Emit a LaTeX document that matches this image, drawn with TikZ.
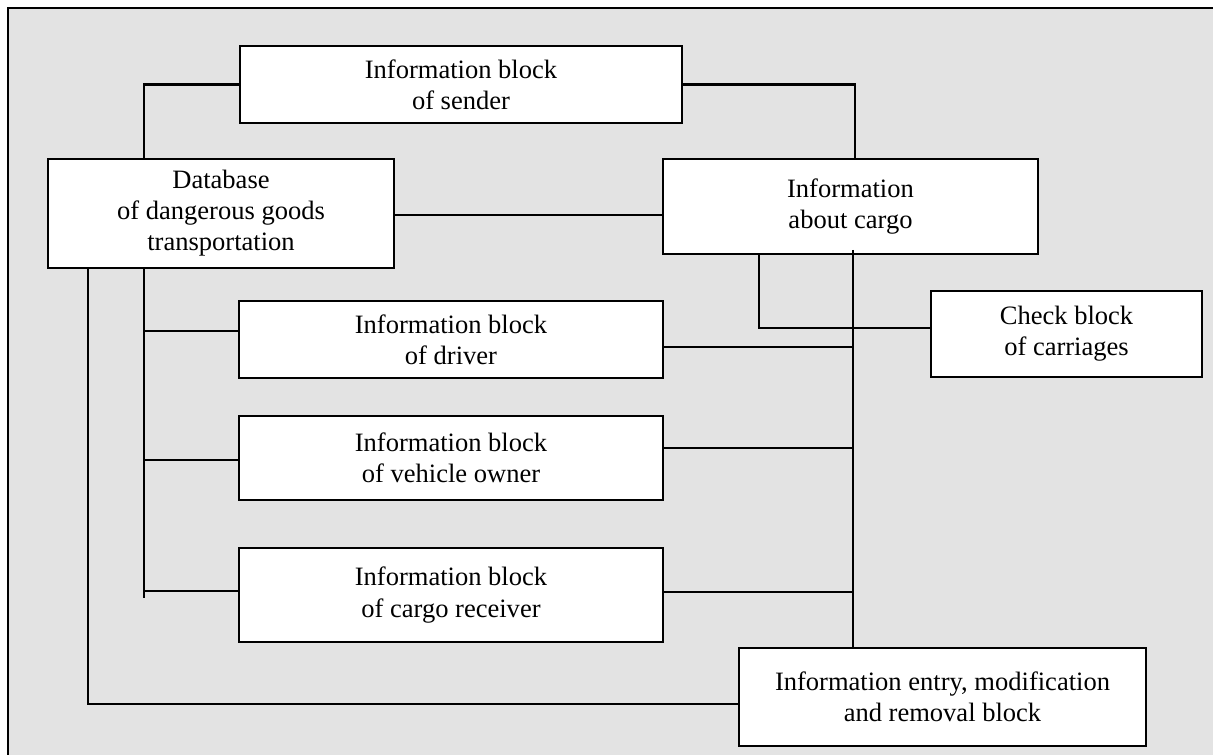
\documentclass[tikz,border=0pt]{standalone}
\usepackage{fontspec}
\setmainfont{Liberation Serif}
\definecolor{panelgray}{HTML}{E3E3E3}
\tikzset{
  blockbox/.style={draw=black, fill=white, line width=1.9pt, align=center, inner sep=0pt,
    font=\fontsize{19.9pt}{23.3pt}\selectfont},
  link/.style={draw=black, line width=1.75pt},
}
\begin{document}
\begin{tikzpicture}[x=0.75pt,y=-0.75pt]
\useasboundingbox (0,0) rectangle (1213,755);
\fill[white] (0,0) rectangle (1213,755);
\fill[panelgray] (8,8) rectangle (1213,755);
\draw[line width=1.9pt] (8,755) -- (8,8) -- (1213,8);

% boxes
\node[blockbox, minimum width=442*0.75pt, minimum height=77*0.75pt] (sender) at (461,84.5) {Information block\\of sender};
\node[blockbox, minimum width=346*0.75pt, minimum height=109*0.75pt] (db) at (221,213.5) {Database\\of dangerous goods\\transportation};
\node[blockbox, minimum width=375*0.75pt, minimum height=95*0.75pt] (cargo) at (850.5,206.5) {Information\\about cargo};
\node[blockbox, minimum width=271*0.75pt, minimum height=86*0.75pt] (check) at (1066.5,334) {Check block\\of carriages};
\node[blockbox, minimum width=424*0.75pt, minimum height=77*0.75pt] (driver) at (451,339.5) {Information block\\of driver};
\node[blockbox, minimum width=424*0.75pt, minimum height=84*0.75pt] (vehicle) at (451,458) {Information block\\of vehicle owner};
\node[blockbox, minimum width=424*0.75pt, minimum height=94*0.75pt] (receiver) at (451,595) {Information block\\of cargo receiver};
\node[blockbox, minimum width=407*0.75pt, minimum height=98*0.75pt] (entry) at (942.5,697) {Information entry, modification\\and removal block};

% helper coordinates for connector routes
\coordinate (xA) at (144,0);
\coordinate (xB) at (88,0);
\coordinate (xC) at (855,0);
\coordinate (xD) at (853,0);
\coordinate (xE) at (759,0);
\coordinate (yDbCargo) at (0,215);
\coordinate (yCheck) at (0,328);
\coordinate (yDrvL) at (0,331);
\coordinate (yDrvR) at (0,347);
\coordinate (yVehL) at (0,460);
\coordinate (yVehR) at (0,448);
\coordinate (yRecL) at (0,591);
\coordinate (yRecR) at (0,592);
\coordinate (yEntry) at (0,704);
\coordinate (busTop) at (853,250);
\coordinate (leftBusEnd) at (144,598);

% connectors
\draw[link] (sender.west) -| (db.north -| xA);
\draw[link] (sender.east) -| (cargo.north -| xC);
\draw[link] (yDbCargo -| db.east) -- (yDbCargo -| cargo.west);
\draw[link] (cargo.south -| xE) |- (yCheck -| check.west);
\draw[link] (busTop) -- (entry.north -| xD);
\draw[link] (yDrvR -| driver.east) -- (yDrvR -| xD);
\draw[link] (yVehR -| vehicle.east) -- (yVehR -| xD);
\draw[link] (yRecR -| receiver.east) -- (yRecR -| xD);
\draw[link] (db.south -| xA) -- (leftBusEnd);
\draw[link] (yDrvL -| xA) -- (yDrvL -| driver.west);
\draw[link] (yVehL -| xA) -- (yVehL -| vehicle.west);
\draw[link] (yRecL -| xA) -- (yRecL -| receiver.west);
\draw[link] (db.south -| xB) |- (yEntry -| entry.west);
\end{tikzpicture}
\end{document}
